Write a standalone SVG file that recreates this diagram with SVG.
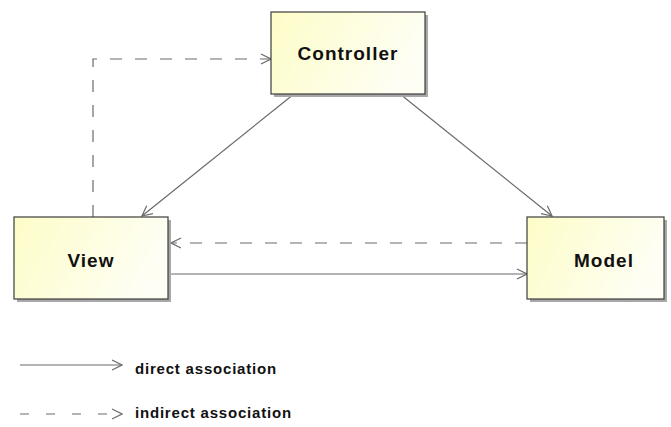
<svg xmlns="http://www.w3.org/2000/svg" width="671" height="427" viewBox="0 0 671 427">
  <defs>
    <linearGradient id="boxFill" x1="0" y1="0" x2="1" y2="0.3">
      <stop offset="0" stop-color="#fdfdc8"/>
      <stop offset="1" stop-color="#fefef4"/>
    </linearGradient>
    <marker id="openArrow" viewBox="0 0 12 12" refX="11" refY="6" markerWidth="12" markerHeight="12" markerUnits="userSpaceOnUse" orient="auto">
      <path d="M1,1 L11,6 L1,11" fill="none" stroke="#6a6a6a" stroke-width="1.2"/>
    </marker>
  </defs>
  <style>
    .shadow { fill: #a8a8a8; }
    .box { fill: url(#boxFill); stroke: #3c3c3c; stroke-width: 1.2; }
    .label { font-family: "Liberation Sans", Arial, sans-serif; font-weight: bold; font-size: 19px; letter-spacing: 1px; fill: #111; text-anchor: middle; }
    .legend { font-family: "Liberation Sans", Arial, sans-serif; font-weight: bold; font-size: 15px; letter-spacing: 0.8px; fill: #111; }
    .conn { fill: none; stroke: #6a6a6a; stroke-width: 1.2; marker-end: url(#openArrow); }
    .dashed { stroke-dasharray: 12 13; }
  </style>

  <rect width="671" height="427" fill="#ffffff"/>

  <g id="connectors">
    <!-- Controller to View -->
    <line class="conn" x1="294" y1="94" x2="142" y2="216"/>
    <!-- Controller to Model -->
    <line class="conn" x1="400" y1="94" x2="552" y2="216"/>
    <!-- View to Controller (indirect) -->
    <polyline class="conn dashed" points="93,217 93,59 271,59"/>
    <!-- Model to View (indirect) -->
    <line class="conn dashed" x1="527" y1="243" x2="171" y2="243"/>
    <!-- View to Model -->
    <line class="conn" x1="168" y1="274" x2="527" y2="274"/>
  </g>

  <g id="controller">
    <rect class="shadow" x="274" y="15" width="154" height="82"/>
    <rect class="box" x="271" y="12" width="154" height="82"/>
    <text class="label" x="348" y="60">Controller</text>
  </g>

  <g id="view">
    <rect class="shadow" x="17" y="220" width="154" height="82"/>
    <rect class="box" x="14" y="217" width="154" height="82"/>
    <text class="label" x="91" y="267">View</text>
  </g>

  <g id="model">
    <rect class="shadow" x="530" y="220" width="137" height="82"/>
    <rect class="box" x="527" y="217" width="137" height="82"/>
    <text class="label" x="604" y="267">Model</text>
  </g>

  <g id="legend">
    <line class="conn" x1="20" y1="365" x2="122" y2="365"/>
    <text class="legend" x="135" y="374">direct association</text>
    <line class="conn" x1="20" y1="414" x2="122" y2="414" style="stroke-dasharray: 9 17"/>
    <text class="legend" x="135" y="418">indirect association</text>
  </g>
</svg>
